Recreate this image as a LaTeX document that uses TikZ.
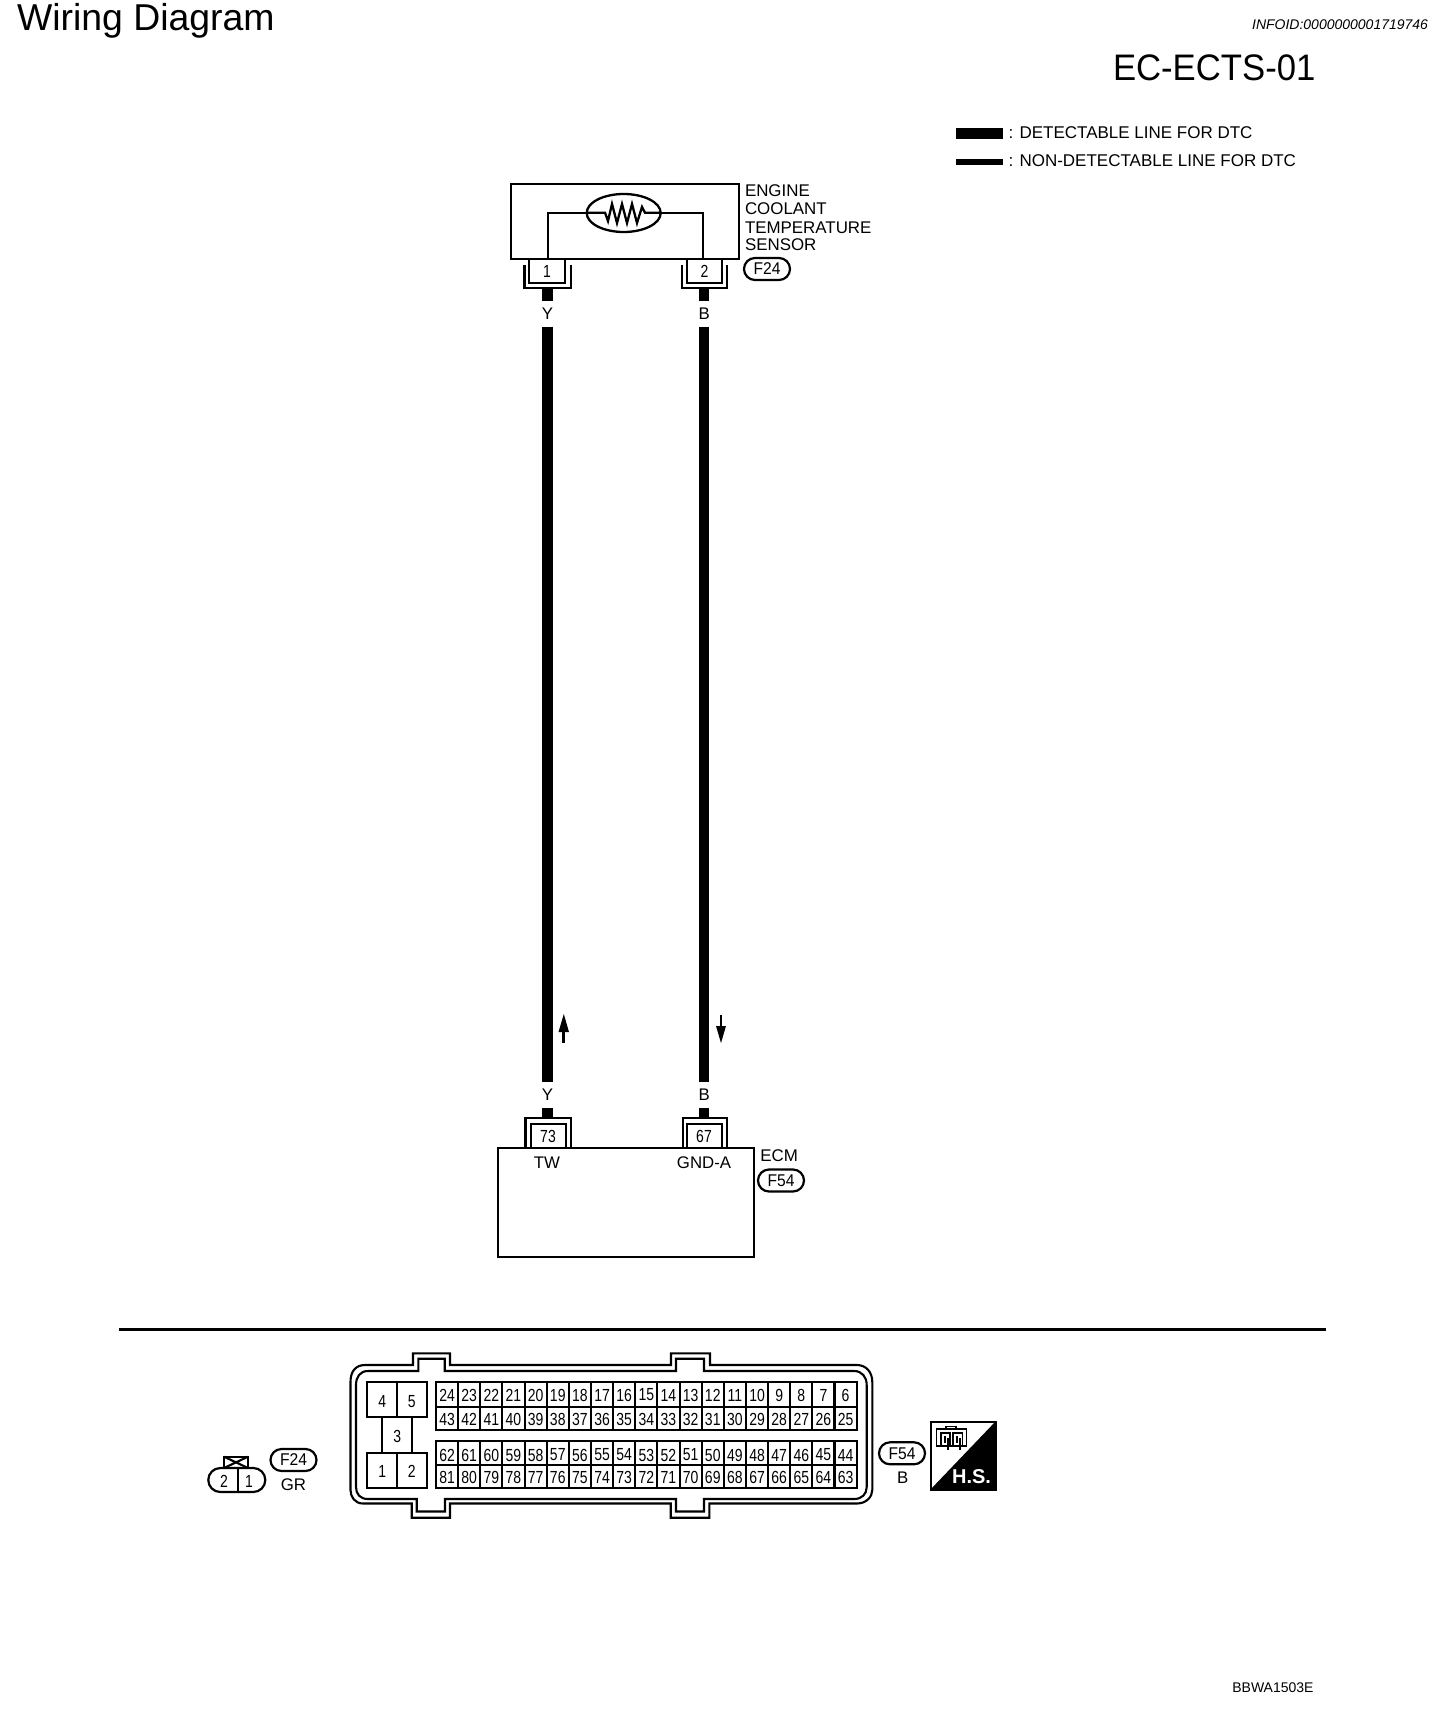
\documentclass[tikz,border=0pt]{standalone}
\usepackage{fontspec}
\setmainfont{Liberation Sans}
\newfontfamily\pinfont[FakeStretch=0.8]{Liberation Sans}
\newfontfamily\lblfont[FakeStretch=0.92]{Liberation Sans}
\newfontfamily\codefont[FakeStretch=0.94]{Liberation Sans}
\usetikzlibrary{shapes.misc,calc}
\newcommand{\fsz}[1]{\fontsize{#1}{#1}\selectfont}
\tikzset{
  txt/.style={inner sep=0pt,outer sep=0pt,text=black},
  lbl/.style={txt,anchor=base west,font=\fsz{16.9}},
  wlabel/.style={txt,anchor=base,font=\fsz{16.8}},
  pinnum/.style={txt,anchor=center,font=\pinfont\fsz{17.5}},
  oval/.style={draw=black,line width=2.2pt,rounded rectangle,minimum width=46pt,minimum height=22pt,inner sep=0pt,font=\lblfont\fsz{17}},
  box/.style={draw=black,line width=2.3pt},
  thin/.style={draw=black,line width=2.1pt},
  wire/.style={draw=black,line width=10.5pt},
  gridline/.style={draw=black,line width=2.1pt},
}
\begin{document}
\begin{tikzpicture}[x=1pt,y=-1pt]
\useasboundingbox (0,0) rectangle (1440,1736);
\fill[white] (0,0) rectangle (1440,1736);
% header
\node[txt,anchor=base west,font=\fsz{37.4}] (title) at (17,31) {Wiring Diagram};
\node[txt,anchor=base east,font=\itshape\fsz{14}] (info) at (1428,30) {INFOID:0000000001719746};
\node[txt,anchor=base west,font=\codefont\fsz{36.9}] (code) at (1113,81) {EC-ECTS-01};
% legend
\fill[black] (955.7,128) rectangle (1003.3,139);
\fill[black] (955.7,159.3) rectangle (1003.3,165);
\node[lbl,font=\fsz{17}] (leg1) at (1008.5,139) {: DETECTABLE LINE FOR DTC};
\node[lbl,font=\fsz{17}] (leg2) at (1008.5,166.5) {: NON-DETECTABLE LINE FOR DTC};
% sensor
\draw[box] (510.7,184) rectangle (738.7,259);
\draw[box] (547.7,259) -- (547.7,212.7) -- (586.7,212.7);
\draw[box] (703,259) -- (703,212.7) -- (660.7,212.7);
\draw[box] (623.7,213) ellipse [x radius=37pt,y radius=19pt];
\draw[box,line join=miter] (586.7,212.7) -- (605,212.7) -- (608,221) -- (612,204) -- (617,223) -- (622,204) -- (627,223) -- (632,204) -- (637,223) -- (642,207) -- (645,212.7) -- (660.7,212.7);
\node[lbl] (s1) at (745,196.7) {ENGINE};
\node[lbl] (s2) at (745,215) {COOLANT};
\node[lbl] (s3) at (745,233.5) {TEMPERATURE};
\node[lbl] (s4) at (745,251) {SENSOR};
\node[oval] (f24a) at (767,269) {F24};
% sensor connectors
\draw[box] (529,259) -- (529,282.7) -- (565,282.7) -- (565,259);
\draw[thin] (524.5,265) -- (524.5,288) -- (570.7,288) -- (570.7,265);
\draw[box] (686.7,259) -- (686.7,282.7) -- (721.7,282.7) -- (721.7,259);
\draw[thin] (681.7,265) -- (681.7,288) -- (727,288) -- (727,265);
\node[pinnum] (p1) at (547,271) {1};
\node[pinnum] (p2) at (704.5,271) {2};
% wires
\node[wlabel] (y1) at (547.5,319) {Y};
\node[wlabel] (b1) at (704.2,319) {B};
\node[wlabel] (y2) at (547.5,1100.2) {Y};
\node[wlabel] (b2) at (704.2,1100.2) {B};
\coordinate (a1) at (547.5,288);
\coordinate (a2) at (547.5,301);
\coordinate (a3) at (547.5,326.7);
\coordinate (a4) at (547.5,1081.7);
\coordinate (a5) at (547.5,1107.7);
\coordinate (a6) at (547.5,1118);
\coordinate (c1) at (703.9,288);
\coordinate (c2) at (703.9,301);
\coordinate (c3) at (703.9,326.7);
\coordinate (c4) at (703.9,1081.7);
\coordinate (c5) at (703.9,1107.7);
\coordinate (c6) at (703.9,1118);
\draw[wire] (a1) -- (a2);
\draw[wire] (a3) -- (a4);
\draw[wire] (a5) -- (a6);
\draw[wire] (c1) -- (c2);
\draw[wire] (c3) -- (c4);
\draw[wire] (c5) -- (c6);
% arrows
\draw[black,line width=3pt] (563.8,1042.7) -- (563.8,1030);
\fill[black] (563.8,1014) -- (569,1032) -- (558.5,1032) -- cycle;
\draw[black,line width=2.2pt] (721,1015) -- (721,1028);
\fill[black] (721,1043) -- (726,1026) -- (716,1026) -- cycle;
% ECM
\draw[box] (497.7,1148.3) rectangle (754,1256.7);
\draw[box] (530.7,1148.3) -- (530.7,1124) -- (565.7,1124) -- (565.7,1148.3);
\draw[thin] (525.5,1148.3) -- (525.5,1118) -- (570.7,1118) -- (570.7,1148.3);
\draw[box] (687.3,1148.3) -- (687.3,1124) -- (722.3,1124) -- (722.3,1148.3);
\draw[thin] (682.7,1148.3) -- (682.7,1118) -- (727.3,1118) -- (727.3,1148.3);
\node[pinnum] (p73) at (548,1136.3) {73};
\node[pinnum] (p67) at (704,1136.3) {67};
\node[wlabel] (tw) at (546.9,1168.3) {TW};
\node[wlabel] (gnd) at (704,1168.3) {GND-A};
\node[lbl] (ecm) at (760.3,1161) {ECM};
\node[oval] (f54a) at (781,1180.5) {F54};
% divider
\draw[black,line width=3pt] (119,1329.3) -- (1326,1329.3);
% small connector
\draw[box] (224,1468) rectangle (248,1456.7);
\draw[thin] (224,1456.7) -- (248,1468) (224,1468) -- (248,1456.7);
\node[oval,minimum width=57pt,minimum height=24pt,fill=white] (conn2) at (236.8,1480) {};
\draw[box] (conn2.north) ++(1,0) -- ($(conn2.south)+(1,0)$);
\node[pinnum] (c2n) at (224,1481.7) {2};
\node[pinnum] (c1n) at (249,1481.7) {1};
\node[oval] (f24b) at (293.5,1460) {F24};
\node[wlabel] (gr) at (293.5,1490) {GR};
% ECM connector shell
\draw[thin,line join=miter] (413,1365) -- (413,1353.3) -- (450,1353.3) -- (450,1365) -- (671,1365) -- (671,1353.3) -- (710,1353.3) -- (710,1365) -- (857,1365)
  .. controls (866,1365) and (872.3,1372) .. (872.3,1382) -- (872.3,1490)
  .. controls (872.3,1497) and (866,1503.5) .. (857,1503.5) -- (709.3,1503.5) -- (709.3,1517.7) -- (670.7,1517.7) -- (670.7,1503.5) -- (450,1503.5) -- (450,1517.7) -- (411.7,1517.7) -- (411.7,1503.5) -- (363,1503.5)
  .. controls (355,1503.5) and (350.5,1497) .. (350.5,1490) -- (350.5,1382)
  .. controls (350.5,1372) and (355,1365) .. (365,1365) -- cycle;
\draw[thin,line join=miter] (418.3,1371) -- (418.3,1358.7) -- (444.7,1358.7) -- (444.7,1371) -- (676,1371) -- (676,1358.7) -- (704,1358.7) -- (704,1371) -- (854,1371)
  .. controls (862,1371) and (866.7,1377) .. (866.7,1385) -- (866.7,1487)
  .. controls (866.7,1494) and (862,1499) .. (854,1499) -- (704,1499) -- (704,1511.5) -- (676,1511.5) -- (676,1499) -- (445,1499) -- (445,1511.5) -- (416.7,1511.5) -- (416.7,1499) -- (368,1499)
  .. controls (360,1499) and (356,1494) .. (356,1487) -- (356,1385)
  .. controls (356,1377) and (360,1371) .. (368,1371) -- cycle;
% power block
\draw[box] (366.7,1382.3) rectangle (427.3,1417.3);
\draw[box] (397.3,1382.3) -- (397.3,1417.3);
\draw[box] (381.7,1417.3) -- (381.7,1453.3) (411.7,1417.3) -- (411.7,1453.3);
\draw[box] (366.7,1453.3) rectangle (427.3,1487.7);
\draw[box] (397.3,1453.3) -- (397.3,1487.7);
\node[pinnum] (b4) at (382.3,1401.7) {4};
\node[pinnum] (b5) at (411.7,1401.7) {5};
\node[pinnum] (b3) at (397.3,1436.7) {3};
\node[pinnum] (b1n) at (382.3,1471.7) {1};
\node[pinnum] (b2n) at (411.7,1471.7) {2};
% signal grids
\draw[box] (436,1382.3) rectangle (856.7,1430);
\draw[gridline] (436,1406.7) -- (856.7,1406.7);
\draw[box] (436,1440.7) rectangle (856.7,1488.3);
\draw[gridline] (436,1465) -- (856.7,1465);
\foreach \i in {1,...,18} {
  \draw[gridline] ({436+22.14*\i},1382.3) -- ({436+22.14*\i},1430);
  \draw[gridline] ({436+22.14*\i},1440.7) -- ({436+22.14*\i},1488.3);
}
\foreach \n [count=\i from 0] in {24,23,...,6} \node[pinnum] (pa\n) at ({436+22.14*(\i+.5)},1395) {\n};
\foreach \n [count=\i from 0] in {43,42,...,25} \node[pinnum] (pb\n) at ({436+22.14*(\i+.5)},1419) {\n};
\foreach \n [count=\i from 0] in {62,61,...,44} \node[pinnum] (pc\n) at ({436+22.14*(\i+.5)},1455) {\n};
\foreach \n [count=\i from 0] in {81,80,...,63} \node[pinnum] (pd\n) at ({436+22.14*(\i+.5)},1477.3) {\n};
\node[oval] (f54b) at (902,1453.3) {F54};
\node[wlabel] (bb) at (902.6,1483.5) {B};
% harness side symbol
\fill[black] (930,1490) -- (996,1421) -- (996,1490) -- cycle;
\draw[black,line width=2pt] (930.5,1421.5) rectangle (996,1490);
\draw[black,line width=1.3pt] (936.7,1429) rectangle (966.5,1446);
\draw[black,line width=1.3pt] (946,1429) -- (946,1426.5) -- (956,1426.5) -- (956,1429);
\draw[black,line width=1.3pt] (941,1433) rectangle (950,1446);
\draw[black,line width=1.3pt] (953,1433) rectangle (962.5,1446);
\draw[black,line width=1.3pt] (945,1436) -- (945,1443) (948,1438) -- (948,1450) (957,1436) -- (957,1443) (960,1438) -- (960,1450);
\node[txt,anchor=base east,text=white,font=\bfseries\fsz{20}] (hs) at (991,1483.5) {H.S.};
% footer
\node[txt,anchor=base east,font=\fsz{14}] (foot) at (1313.5,1692.7) {BBWA1503E};
\end{tikzpicture}
\end{document}
